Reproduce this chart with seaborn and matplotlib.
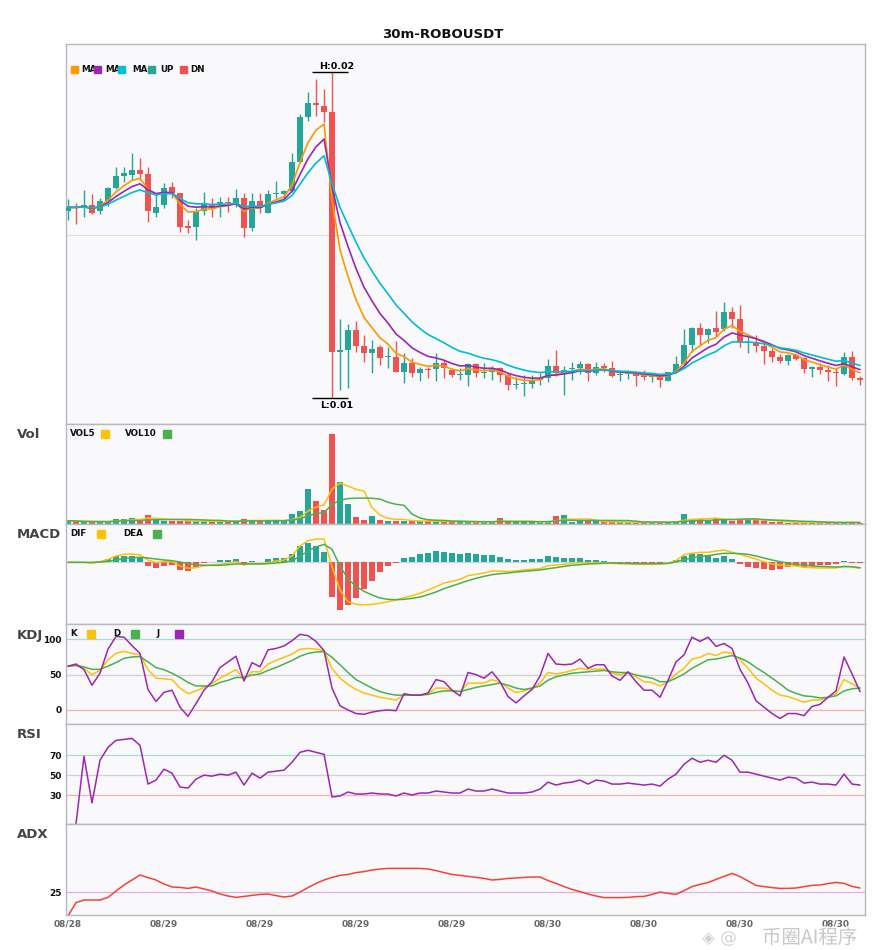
import numpy as np
import pandas as pd
import matplotlib
matplotlib.use("Agg")
import matplotlib.pyplot as plt
import matplotlib.patches as mpatches
import matplotlib.patheffects as pe
import seaborn as sns

# ---------------- data ----------------
title = "30m-ROBOUSDT"
date_labels = ["08/28", "08/29", "08/29", "08/29", "08/29", "08/30", "08/30", "08/30", "08/30"]
tick_step = 12
panel_names = ["Vol", "MACD", "KDJ", "RSI", "ADX"]

# prices in 1e-5 USDT
open_ = [1573, 1585, 1585, 1591, 1573, 1602, 1642, 1678, 1680, 1695,
         1683, 1567, 1591, 1645, 1625, 1527, 1525, 1573, 1592, 1591,
         1599, 1591, 1611, 1522, 1601, 1567, 1623, 1623, 1633, 1720,
         1855, 1897, 1887, 1870, 1150, 1155, 1215, 1168, 1147, 1165,
         1133, 1135, 1090, 1115, 1085, 1098, 1097, 1115, 1095, 1080,
         1080, 1112, 1086, 1088, 1100, 1080, 1050, 1052, 1053, 1065,
         1070, 1107, 1085, 1097, 1100, 1113, 1087, 1107, 1101, 1079,
         1082, 1083, 1080, 1073, 1080, 1063, 1088, 1113, 1170, 1220,
         1200, 1220, 1217, 1269, 1247, 1175, 1175, 1167, 1153, 1133,
         1123, 1139, 1130, 1099, 1103, 1095, 1090, 1083, 1133, 1072]
high = [1607, 1595, 1635, 1623, 1610, 1645, 1705, 1705, 1745, 1732,
        1705, 1623, 1655, 1660, 1627, 1545, 1580, 1630, 1610, 1615,
        1615, 1637, 1625, 1625, 1627, 1635, 1661, 1635, 1745, 1863,
        1930, 1967, 1937, 1990, 1247, 1232, 1242, 1200, 1185, 1170,
        1165, 1182, 1145, 1130, 1105, 1105, 1145, 1125, 1100, 1100,
        1115, 1117, 1117, 1107, 1105, 1085, 1075, 1080, 1080, 1085,
        1128, 1155, 1107, 1120, 1122, 1115, 1120, 1115, 1123, 1093,
        1095, 1087, 1095, 1080, 1082, 1090, 1137, 1217, 1223, 1235,
        1220, 1272, 1299, 1285, 1290, 1195, 1200, 1175, 1160, 1143,
        1143, 1143, 1135, 1107, 1115, 1110, 1100, 1150, 1153, 1078]
low = [1545, 1533, 1555, 1563, 1563, 1588, 1637, 1660, 1665, 1665,
       1540, 1555, 1580, 1610, 1508, 1507, 1485, 1560, 1555, 1555,
       1570, 1585, 1495, 1512, 1565, 1565, 1610, 1610, 1630, 1715,
       1843, 1857, 1840, 1010, 1035, 1040, 1150, 1120, 1085, 1110,
       1100, 1090, 1055, 1075, 1063, 1070, 1063, 1070, 1075, 1065,
       1048, 1075, 1070, 1065, 1060, 1035, 1037, 1018, 1040, 1050,
       1060, 1077, 1020, 1065, 1083, 1063, 1080, 1090, 1075, 1063,
       1067, 1047, 1065, 1060, 1043, 1063, 1085, 1107, 1150, 1170,
       1177, 1195, 1213, 1220, 1165, 1145, 1150, 1112, 1120, 1115,
       1110, 1125, 1085, 1075, 1083, 1063, 1047, 1080, 1065, 1050]
close = [1583, 1582, 1590, 1565, 1602, 1642, 1678, 1685, 1695, 1683,
         1573, 1585, 1641, 1625, 1525, 1522, 1573, 1592, 1580, 1598,
         1595, 1611, 1522, 1601, 1580, 1623, 1627, 1632, 1720, 1855,
         1895, 1889, 1870, 1150, 1155, 1215, 1168, 1147, 1158, 1132,
         1135, 1090, 1115, 1085, 1098, 1095, 1115, 1100, 1080, 1082,
         1112, 1087, 1088, 1100, 1079, 1050, 1053, 1055, 1062, 1070,
         1107, 1085, 1095, 1100, 1113, 1087, 1103, 1101, 1077, 1081,
         1085, 1077, 1073, 1075, 1065, 1088, 1113, 1170, 1220, 1200,
         1217, 1208, 1269, 1249, 1178, 1178, 1167, 1152, 1135, 1122,
         1140, 1129, 1098, 1103, 1095, 1090, 1085, 1133, 1072, 1066]
volume = [10, 8, 6, 6, 7, 7, 16, 16, 19, 10,
          28, 13, 8, 10, 10, 8, 8, 8, 8, 8,
          8, 8, 16, 13, 8, 10, 10, 10, 31, 38,
          106, 70, 41, 271, 127, 61, 22, 13, 25, 13,
          10, 10, 10, 8, 8, 8, 8, 7, 7, 7,
          6, 5, 6, 6, 19, 5, 6, 6, 6, 6,
          6, 25, 28, 7, 8, 8, 8, 5, 5, 5,
          5, 5, 5, 5, 7, 4, 10, 31, 16, 14,
          10, 18, 16, 8, 16, 13, 13, 8, 5, 5,
          2, 5, 5, 5, 5, 4, 4, 5, 7, 3]
ma_spans = [5, 8, 13]
vol_ma_windows = [5, 10]

# indicator values (MACD in 1e-6 units)
macd_dif = [0, 0, 0, -3, 2, 9, 19, 24, 25, 22,
            7, -1, 2, 2, -11, -18, -16, -10, -8, -6,
            -3, 2, -8, -3, -5, -1, 4, 7, 19, 49,
            65, 70, 70, -13, -83, -118, -126, -128, -126, -123,
            -118, -113, -106, -100, -93, -83, -73, -62, -57, -51,
            -40, -36, -32, -26, -26, -28, -26, -23, -21, -19,
            -10, -8, -6, -3, -1, -1, -1, -1, -3, -4,
            -5, -5, -6, -6, -5, -3, 5, 23, 27, 30,
            30, 34, 37, 30, 24, 17, 10, 2, -5, -8,
            -10, -11, -15, -16, -17, -17, -17, -11, -14, -18]
macd_dea = [0, 0, 0, 0, 1, 3, 7, 11, 14, 15,
            13, 10, 7, 5, 1, -4, -7, -9, -9, -9,
            -7, -5, -5, -5, -5, -4, -2, 0, 5, 18,
            34, 46, 54, 39, -11, -50, -72, -87, -98, -107,
            -111, -112, -111, -108, -104, -97, -89, -79, -71, -63,
            -55, -48, -42, -37, -34, -32, -29, -27, -25, -23,
            -19, -16, -12, -9, -7, -5, -4, -3, -2, -3,
            -3, -4, -4, -4, -4, -3, 1, 8, 13, 17,
            20, 24, 27, 27, 26, 24, 19, 13, 7, 2,
            -3, -6, -8, -11, -12, -13, -14, -13, -13, -16]
macd_hist = [0, 0, 0, 0, 4, 10, 19, 20, 20, 14,
             -11, -16, -10, -8, -22, -25, -14, -2, 0, 7,
             7, 10, -8, 4, 0, 10, 13, 13, 25, 49,
             58, 49, 31, -103, -143, -128, -106, -80, -55, -28,
             -10, -2, 13, 17, 25, 27, 33, 31, 28, 25,
             28, 24, 21, 21, 16, 10, 7, 7, 10, 10,
             19, 16, 13, 13, 13, 7, 7, 4, -2, -3,
             -3, -3, -3, -2, -3, 0, 7, 19, 28, 25,
             22, 13, 19, 10, -5, -14, -17, -20, -23, -20,
             -13, -11, -14, -10, -9, -8, -5, 3, -2, -2]
kdj_k = [62, 63, 59, 50, 56, 71, 80, 83, 80, 78,
         57, 45, 44, 43, 31, 23, 27, 32, 37, 45,
         51, 57, 43, 54, 54, 65, 70, 74.5, 79, 86,
         87, 86, 84, 59, 45, 36, 29, 24, 21, 18,
         16, 14, 21, 21, 21, 23, 31, 31, 28, 26,
         38, 38, 38, 43, 39, 31, 24.5, 27, 31, 38,
         53, 51, 53, 56, 59, 57, 58, 58, 52, 50,
         53, 47, 40, 39, 34, 40, 51, 59, 72, 74.5,
         80, 77, 82, 80, 71, 59, 45, 37, 28, 21,
         19, 15, 11, 14, 14, 18, 23, 43, 37, 31]
kdj_d = [62, 63, 61, 57.5, 57.5, 62, 67, 73, 75, 75.5,
         68, 60, 57, 52, 46, 39, 34, 34, 34, 39,
         42, 46, 46, 49.5, 51, 56, 60, 65, 70, 76,
         80, 82, 82.5, 74.5, 64, 53, 43, 37, 31, 26,
         23, 21, 21, 21, 21, 22, 25, 27, 27, 26,
         29, 32, 34, 36, 38, 35, 31, 29, 31, 34,
         42, 47, 49.5, 52, 53, 54, 55, 56, 54, 53,
         53, 49.5, 47, 45, 40, 40, 45, 51, 59, 65,
         71, 72, 74.5, 77, 73.5, 68, 60, 53, 45, 37,
         28, 23.5, 20, 19, 17, 18, 20, 27, 30, 31]
kdj_j = [62, 65, 57, 35, 52, 86, 104, 103, 91, 80,
         29, 12, 25, 28, 4, -9, 9, 28, 40, 60,
         68, 76, 41, 67, 61, 85, 87, 90.6, 98, 107,
         105, 97, 84, 31, 6, 0, -5, -6, -3, -1,
         0, -1, 23, 21, 21, 24, 43, 40, 28, 20,
         53, 50, 45, 54, 40, 19, 10, 20, 29, 48,
         80, 65, 64, 65, 72, 59, 64, 64, 48, 42,
         54, 40, 28, 28, 18, 42, 68, 78, 103, 97,
         103, 90, 94, 87, 57.5, 38, 13, 4, -5, -12,
         -5, -5, -8, 5, 8, 18, 27, 75, 51, 26]
rsi_vals = [np.nan, 1, 69, 22, 65, 78, 85, 86, 87, 80,
            41, 45, 56, 52, 38, 37, 46, 50, 49, 51,
            50, 53, 40, 52, 47, 53, 54, 55, 63, 73,
            75, 73, 71, 28, 29, 33, 31, 31, 32, 31,
            31, 29, 32, 30, 32, 32, 34, 33, 32, 32,
            36, 34, 34, 36, 34, 32, 32, 32, 33, 36,
            43, 40, 42, 43, 45, 41, 45, 44, 41, 41,
            42, 41, 40, 41, 39, 46, 51, 61, 67, 63,
            65, 63, 70, 65, 53, 53, 51, 49, 47, 45,
            48, 47, 42, 43, 41, 41, 40, 51, 41, 40]
adx_vals = [13.0, 19.7, 21.0, 21.0, 21.0, 22.3, 25.5, 28.5, 31.0, 33.5,
            32.2, 31.0, 29.0, 27.5, 27.3, 26.8, 27.5, 26.5, 25.5, 24.0,
            23.0, 22.3, 22.8, 23.3, 23.8, 24.0, 23.2, 22.5, 23.0, 25.0,
            27.2, 29.3, 31.0, 32.3, 33.3, 33.8, 34.7, 35.2, 36.0, 36.5,
            36.8, 36.8, 36.8, 36.8, 36.8, 36.5, 35.7, 34.7, 33.8, 33.3,
            32.8, 32.3, 31.8, 31.0, 31.3, 31.8, 32.0, 32.3, 32.5, 32.5,
            30.7, 29.3, 27.7, 26.3, 25.2, 24.0, 23.0, 22.2, 22.2, 22.2,
            22.3, 22.7, 22.8, 23.8, 25.0, 24.3, 23.8, 25.7, 27.7, 28.8,
            29.7, 31.3, 32.8, 34.3, 32.7, 30.5, 28.3, 27.7, 27.2, 26.8,
            26.8, 27.0, 27.7, 28.3, 28.5, 29.2, 29.8, 29.3, 27.8, 27.0]
PRICE_UNIT = 1e-5
MACD_UNIT = 1e-6

# ---------------- series ----------------
n = len(close)
idx = np.arange(n)
o = pd.Series(open_, dtype=float) * PRICE_UNIT
h = pd.Series(high, dtype=float) * PRICE_UNIT
l = pd.Series(low, dtype=float) * PRICE_UNIT
c = pd.Series(close, dtype=float) * PRICE_UNIT
v = pd.Series(volume, dtype=float)
mas = [c.ewm(span=s, adjust=False).mean() for s in ma_spans]
vmas = [v.rolling(w, min_periods=1).mean() for w in vol_ma_windows]
dif = np.array(macd_dif) * MACD_UNIT
dea = np.array(macd_dea) * MACD_UNIT
hist = np.array(macd_hist) * MACD_UNIT

# ---------------- styling ----------------
sns.set_theme(style="white")
plt.rcParams['font.family'] = ['DejaVu Sans', 'Noto Sans CJK SC']

UP = '#26a69a'
DN = '#ef5350'
MA_COLORS = ['#ff9800', '#9c27b0', '#00bcd4']
AMBER, GREEN, PURPLE = '#ffc107', '#4caf50', '#9c27b0'
FACE = '#f9f9fb'
SPINE = '#b8b8c0'
colors = np.where(c >= o, UP, DN)

W, H = 885, 950
fig = plt.figure(figsize=(W / 100, H / 100), dpi=100)
fig.patch.set_facecolor('white')


def rect(top, bottom, left=66, right=865):
    return [left / W, 1 - bottom / H, (right - left) / W, (bottom - top) / H]


def fx(x):
    return x / W


def fy(y):
    return 1 - y / H


ax_main = fig.add_axes(rect(44, 424))
ax_vol = fig.add_axes(rect(424, 524))
ax_macd = fig.add_axes(rect(524, 624))
ax_kdj = fig.add_axes(rect(624, 724))
ax_rsi = fig.add_axes(rect(724, 824))
ax_adx = fig.add_axes(rect(824, 915))
axes = [ax_main, ax_vol, ax_macd, ax_kdj, ax_rsi, ax_adx]

for ax in axes:
    ax.set_facecolor(FACE)
    for s in ax.spines.values():
        s.set_color(SPINE)
        s.set_linewidth(1.0)
    ax.tick_params(axis='both', length=0, labelsize=6.5)
    ax.set_xticks([])
    ax.set_yticks([])
    ax.grid(False)

XL = (-0.25, 99.62)

# ---------------- main candles ----------------
ax_main.axhline(0.015, color='#dcdce4', lw=0.8, zorder=0)
ax_main.vlines(idx, l, h, colors=colors, lw=1.0, zorder=2)
body_lo = np.minimum(o, c)
body_h = np.maximum(np.abs(c - o), 2.5 * PRICE_UNIT)
ax_main.bar(idx, body_h, bottom=body_lo, width=0.75, color=colors, zorder=3, linewidth=0)
for m, col in zip(mas, MA_COLORS):
    sns.lineplot(x=idx, y=m.values, ax=ax_main, color=col, lw=1.2, zorder=4, legend=False)
lo_p, hi_p = l.min(), h.max()
rng = hi_p - lo_p
ax_main.set_ylim(lo_p - 0.0786 * rng, hi_p + 0.0847 * rng)
ih = int(h.idxmax())
il = int(l.idxmin())
ppx = rng / 327.0  # price per pixel
ax_main.hlines(hi_p, ih - 2.5, ih + 2.0, color='black', lw=1.0, zorder=5)
ax_main.text(ih + 0.6, hi_p + 1.0 * ppx, f"H:{hi_p:.2f}", ha='center', va='bottom',
             fontsize=6.8, fontweight='bold', color='black')
ax_main.hlines(lo_p, il - 2.5, il + 2.0, color='black', lw=1.0, zorder=5)
ax_main.text(il + 0.6, lo_p - 3.0 * ppx, f"L:{lo_p:.2f}", ha='center', va='top',
             fontsize=6.8, fontweight='bold', color='black')

# ---------------- volume ----------------
ax_vol.bar(idx, v, width=0.75, color=colors, linewidth=0, zorder=2)
for m, col in zip(vmas, [AMBER, GREEN]):
    sns.lineplot(x=idx, y=m.values, ax=ax_vol, color=col, lw=1.1, zorder=3, legend=False)
ax_vol.set_ylim(0, v.max() * 1.11)

# ---------------- MACD ----------------
hcol = np.where(hist >= 0, UP, DN)
ax_macd.axhline(0, color='#d4d4da', lw=0.9, zorder=1)
ax_macd.bar(idx, hist, width=0.75, color=hcol, linewidth=0, zorder=2)
sns.lineplot(x=idx, y=dif, ax=ax_macd, color=AMBER, lw=1.1, zorder=3, legend=False)
sns.lineplot(x=idx, y=dea, ax=ax_macd, color=GREEN, lw=1.1, zorder=3, legend=False)
ax_macd.set_ylim(-185 * MACD_UNIT, 115 * MACD_UNIT)

# ---------------- KDJ ----------------
ax_kdj.axhline(100, color='#a8dcd6', lw=0.9, zorder=1)
ax_kdj.axhline(50, color='#d0d0d6', lw=0.9, zorder=1)
ax_kdj.axhline(0, color='#f6b0b0', lw=0.9, zorder=1)
sns.lineplot(x=idx, y=kdj_k, ax=ax_kdj, color=AMBER, lw=1.1, zorder=3, legend=False)
sns.lineplot(x=idx, y=kdj_d, ax=ax_kdj, color=GREEN, lw=1.1, zorder=3, legend=False)
sns.lineplot(x=idx, y=kdj_j, ax=ax_kdj, color=PURPLE, lw=1.1, zorder=4, legend=False)
ax_kdj.set_ylim(-19.8, 121.6)
ax_kdj.set_yticks([0, 50, 100])
ax_kdj.set_yticklabels(['0', '50', '100'], fontsize=6.5, fontweight='bold')

# ---------------- RSI ----------------
ax_rsi.axhline(70, color='#a8dcd6', lw=0.9, zorder=1)
ax_rsi.axhline(50, color='#d0d0d6', lw=0.9, zorder=1)
ax_rsi.axhline(30, color='#f6b0b0', lw=0.9, zorder=1)
sns.lineplot(x=idx, y=rsi_vals, ax=ax_rsi, color=PURPLE, lw=1.1, zorder=3, legend=False)
ax_rsi.set_ylim(0.8, 101.5)
ax_rsi.set_yticks([30, 50, 70])
ax_rsi.set_yticklabels(['30', '50', '70'], fontsize=6.5, fontweight='bold')

# ---------------- ADX ----------------
ax_adx.axhline(25, color='#dcaee6', lw=0.9, zorder=1)
sns.lineplot(x=idx, y=adx_vals, ax=ax_adx, color='#f44336', lw=1.1, zorder=3, legend=False)
ax_adx.set_ylim(13.5, 59)
ax_adx.set_yticks([25])
ax_adx.set_yticklabels(['25'], fontsize=6.5, fontweight='bold')
tick_pos = list(range(0, n, tick_step))
ax_adx.set_xticks(tick_pos)
ax_adx.set_xticklabels(date_labels, fontsize=6.5, fontweight='bold', color='#666666')
ax_adx.tick_params(axis='x', pad=3)

for ax in axes:
    ax.set_xlim(*XL)
    ax.set_xlabel('')
    ax.set_ylabel('')
    ax.tick_params(axis='y', pad=3, labelcolor='#111111')

# ---------------- titles & legends ----------------
fig.text(fx(443), fy(34), title, ha='center', va='center', fontsize=9.5, fontweight='bold', color='#111111')

for lab, yy in zip(panel_names, [435, 535, 635, 735, 835]):
    fig.text(fx(17), fy(yy), lab, ha='left', va='center', fontsize=9.5, fontweight='bold', color='#444444')


def square(x0, yc, color, size=7):
    fig.patches.append(mpatches.Rectangle((fx(x0), fy(yc + size / 2)), size / W, size / H,
                                          transform=fig.transFigure, color=color, zorder=10))


def label(x0, yc, txt):
    fig.text(fx(x0), fy(yc), txt, ha='left', va='center', fontsize=6.3, fontweight='bold',
             color='#111111', zorder=9)


label(81, 69, 'MA'); square(71, 69, MA_COLORS[0])
label(105, 69, 'MA'); square(94, 69, MA_COLORS[1])
label(132, 69, 'MA'); square(118, 69, MA_COLORS[2])
square(148, 69, UP); label(160, 69, 'UP')
square(180, 69, DN); label(190, 69, 'DN')

label(70, 434, 'VOL5'); square(101, 434, AMBER, 8)
label(125, 434, 'VOL10'); square(163, 434, GREEN, 8)
label(70, 534, 'DIF'); square(97, 534, AMBER, 8)
label(123, 534, 'DEA'); square(153, 534, GREEN, 8)
label(70, 634, 'K'); square(87, 634, AMBER, 8)
label(113, 634, 'D'); square(131, 634, GREEN, 8)
label(157, 634, 'J'); square(175, 634, PURPLE, 8)

# watermark (kept just below the date labels)
wm = fig.text(fx(702), fy(938), '◈ @', ha='left', va='center', fontsize=12,
              color='#d2d2d2', family=['DejaVu Sans'])
wm2 = fig.text(fx(762), fy(938), '币圈AI程序', ha='left', va='center', fontsize=14,
               color='#c8c8c8', family=['Noto Sans CJK SC', 'DejaVu Sans'])
for t in (wm, wm2):
    t.set_path_effects([pe.withStroke(linewidth=2, foreground='white')])

fig.savefig('out.png', dpi=100, facecolor='white')
